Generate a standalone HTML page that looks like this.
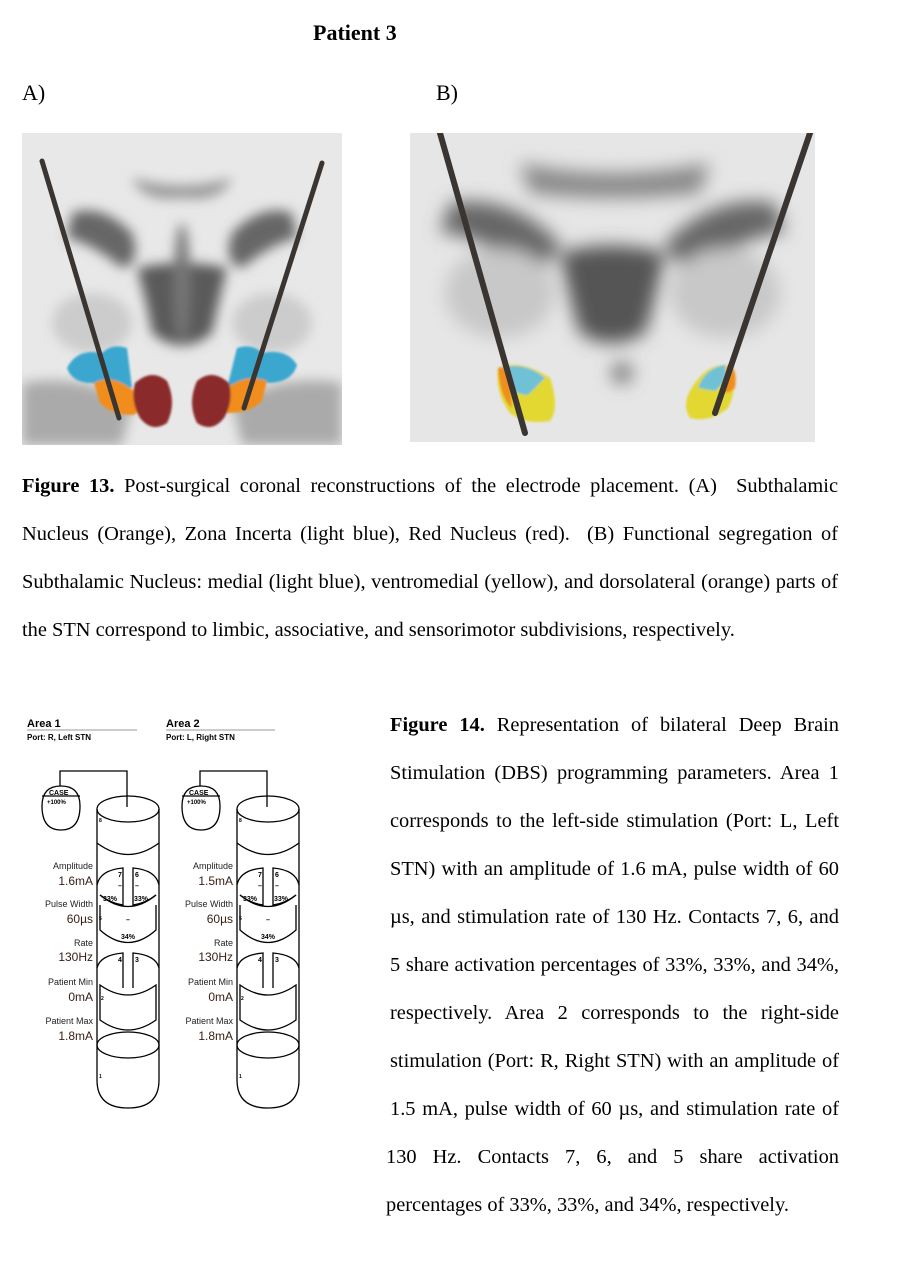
<!DOCTYPE html>
<html><head><meta charset="utf-8"><style>
body{margin:0;background:#fff;width:914px;height:1284px;position:relative;font-family:"Liberation Serif",serif;color:#000;overflow:hidden}
.a{position:absolute}
.cap{position:absolute;font-size:20.4px;line-height:48px;text-align:justify;text-align-last:justify}
.cap .l{display:block;height:48px;white-space:nowrap}
</style></head><body>
<div class="a" style="left:313px;top:20px;font-size:22px;font-weight:bold">Patient 3</div>
<div class="a" style="left:22px;top:80px;font-size:22px">A)</div>
<div class="a" style="left:436px;top:80px;font-size:22px">B)</div>

<svg class="a" style="left:22px;top:133px" width="320" height="312" viewBox="0 0 320 312">
<defs><filter id="b1"><feGaussianBlur stdDeviation="6"/></filter><filter id="b2"><feGaussianBlur stdDeviation="1"/></filter></defs>
<rect width="320" height="312" fill="#e8e8e8"/>
<g filter="url(#b1)" fill="#8a8a8a">
<path d="M110 45 Q160 60 210 45 Q200 70 160 65 Q120 70 110 45Z" fill="#999"/>
<path d="M50 80 Q80 70 110 100 Q120 130 100 135 Q70 110 45 105Z" fill="#666"/>
<path d="M270 80 Q240 70 210 100 Q200 130 220 135 Q250 110 275 105Z" fill="#666"/>
<path d="M115 135 Q160 125 205 135 Q195 175 190 200 Q160 225 130 200 Q125 170 115 135Z" fill="#5a5a5a"/>
<ellipse cx="160" cy="150" rx="8" ry="60" fill="#777"/>
<path d="M0 250 Q60 240 110 270 L100 312 L0 312Z" fill="#aaa"/>
<path d="M320 250 Q260 240 210 270 L220 312 L320 312Z" fill="#aaa"/>
<ellipse cx="70" cy="190" rx="40" ry="30" fill="#ccc"/><ellipse cx="250" cy="190" rx="40" ry="30" fill="#ccc"/>
</g>
<g filter="url(#b2)">
<path d="M45 235 Q55 215 80 220 Q90 210 105 215 L110 255 Q90 255 70 250 Q50 250 45 235Z" fill="#3aa7cf"/>
<path d="M275 232 Q265 215 240 220 Q230 210 215 215 L205 255 Q225 255 245 250 Q270 250 275 232Z" fill="#3aa7cf"/>
<path d="M72 250 Q90 240 112 258 Q122 275 112 282 Q90 282 78 270Z" fill="#f08d1e"/>
<path d="M245 248 Q225 240 205 255 Q195 272 205 280 Q228 280 240 268Z" fill="#f08d1e"/>
<path d="M113 250 Q130 235 145 248 Q155 270 145 290 Q130 300 118 285 Q108 268 113 250Z" fill="#8b2a2c"/>
<path d="M207 250 Q190 235 175 248 Q165 270 175 290 Q190 300 202 285 Q212 268 207 250Z" fill="#8b2a2c"/>
</g>
<line x1="20" y1="28" x2="97" y2="285" stroke="#3a3530" stroke-width="5" stroke-linecap="round"/>
<line x1="300" y1="30" x2="222" y2="275" stroke="#3a3530" stroke-width="5" stroke-linecap="round"/>
</svg>

<svg class="a" style="left:410px;top:133px" width="405" height="309" viewBox="0 0 405 309">
<defs><filter id="b3"><feGaussianBlur stdDeviation="9"/></filter><filter id="b4"><feGaussianBlur stdDeviation="1"/></filter></defs>
<rect width="405" height="309" fill="#e6e6e6"/>
<g filter="url(#b3)">
<path d="M110 30 Q200 50 300 30 L290 60 Q200 70 120 60Z" fill="#888"/>
<path d="M40 70 Q100 60 150 110 Q140 140 110 140 Q70 100 30 100Z" fill="#666"/>
<path d="M365 70 Q305 60 255 110 Q265 140 295 140 Q335 100 375 100Z" fill="#666"/>
<path d="M150 120 Q200 105 255 120 Q245 170 235 200 Q200 220 170 200 Q160 170 150 120Z" fill="#555"/>
<ellipse cx="90" cy="160" rx="55" ry="45" fill="#c8c8c8"/><ellipse cx="315" cy="160" rx="55" ry="45" fill="#c8c8c8"/>
<ellipse cx="212" cy="240" rx="10" ry="10" fill="#666"/>
</g>
<g filter="url(#b4)">
<path d="M88 235 Q110 225 140 245 Q150 275 140 288 Q115 292 100 280 Q85 260 88 235Z" fill="#e3d833"/>
<path d="M90 235 Q115 228 135 245 L118 262 Q98 262 90 235Z" fill="#6fc1d6"/>
<path d="M88 235 Q96 232 100 245 L102 275 Q90 265 88 235Z" fill="#f08d1e"/>
<path d="M322 233 Q300 228 285 250 Q270 270 280 285 Q300 290 318 275 Q328 255 322 233Z" fill="#e3d833"/>
<path d="M315 232 Q295 235 288 255 L305 258 Q318 248 315 232Z" fill="#6fc1d6"/>
<path d="M318 232 Q328 235 325 255 Q318 262 312 258Z" fill="#f08d1e"/>
</g>
<line x1="30" y1="0" x2="115" y2="300" stroke="#3a3530" stroke-width="6" stroke-linecap="round"/>
<line x1="400" y1="0" x2="305" y2="280" stroke="#3a3530" stroke-width="6" stroke-linecap="round"/>
</svg>

<div class="cap" style="left:22px;top:462px;width:816px">
<span class="l"><b>Figure 13.</b> Post-surgical coronal reconstructions of the electrode placement. (A) &nbsp;Subthalamic</span>
<span class="l">Nucleus (Orange), Zona Incerta (light blue), Red Nucleus (red). &nbsp;(B) Functional segregation of</span>
<span class="l">Subthalamic Nucleus: medial (light blue), ventromedial (yellow), and dorsolateral (orange) parts of</span>
<span class="l" style="text-align-last:left">the STN correspond to limbic, associative, and sensorimotor subdivisions, respectively.</span>
</div>

<div class="cap" style="left:390px;top:701px;width:449px">
<span class="l"><b>Figure 14.</b> Representation of bilateral Deep Brain</span>
<span class="l">Stimulation (DBS) programming parameters. Area 1</span>
<span class="l">corresponds to the left-side stimulation (Port: L, Left</span>
<span class="l">STN) with an amplitude of 1.6 mA, pulse width of 60</span>
<span class="l">µs, and stimulation rate of 130 Hz. Contacts 7, 6, and</span>
<span class="l">5 share activation percentages of 33%, 33%, and 34%,</span>
<span class="l">respectively. Area 2 corresponds to the right-side</span>
<span class="l">stimulation (Port: R, Right STN) with an amplitude of</span>
<span class="l">1.5 mA, pulse width of 60 µs, and stimulation rate of</span>
<span class="l" style="margin-left:-4px">130 Hz. Contacts 7, 6, and 5 share activation</span>
<span class="l" style="margin-left:-4px;text-align-last:left">percentages of 33%, 33%, and 34%, respectively.</span>
</div>

<svg class="a" style="left:0;top:700px" width="380" height="420" viewBox="0 700 380 420" font-family="Liberation Sans, sans-serif">
<text x="27" y="727" font-size="11" font-weight="bold">Area 1</text>
<line x1="27" y1="730" x2="137" y2="730" stroke="#999" stroke-width="1"/>
<text x="27" y="740" font-size="8" font-weight="bold">Port: R, Left STN</text>
<text x="166" y="727" font-size="11" font-weight="bold">Area 2</text>
<line x1="166" y1="730" x2="275" y2="730" stroke="#999" stroke-width="1"/>
<text x="166" y="740" font-size="8" font-weight="bold">Port: L, Right STN</text>

<g fill="none" stroke="#000" stroke-width="1.3">
<path d="M60 786 V771 H127 V807"/>
<path d="M42 806 Q42 786 61 786 Q80 786 80 806 Q80 830 61 830 Q42 830 42 806Z" fill="#fff"/>
<line x1="42" y1="796" x2="80" y2="796"/>
<path d="M97 809 V1080 Q97 1108 128 1108 Q159 1108 159 1080 V809"/>
<ellipse cx="128" cy="809" rx="31" ry="13"/>
<path d="M97 843 Q128 866 159 843"/>
<path d="M97 885 Q100 870 123 868 V905 Q110 903 100 895"/>
<path d="M159 885 Q156 870 133 868 V905 Q146 903 156 895"/>
<path d="M100 895 Q128 918 156 895"/>
<path d="M100 905 V930 Q128 955 156 930 V905"/>
<path d="M97 968 Q100 955 123 953 V988"/>
<path d="M159 968 Q156 955 133 953 V988"/>
<path d="M100 985 Q128 1005 156 985 V1020 Q128 1040 100 1020Z"/>
<ellipse cx="128" cy="1045" rx="31" ry="13"/>
</g>
<g font-size="7" font-weight="bold">
<text x="99" y="822" font-size="5">8</text><text x="118" y="877">7</text><text x="135" y="877">6</text>
<text x="118" y="888">–</text><text x="135" y="888">–</text>
<text x="103" y="901">33%</text><text x="134" y="901">33%</text>
<text x="99" y="920" font-size="5">5</text><text x="126" y="922">–</text><text x="121" y="939">34%</text>
<text x="118" y="962">4</text><text x="135" y="962">3</text><text x="101" y="1000" font-size="5">2</text><text x="99" y="1078" font-size="5">1</text>
<text x="49" y="795" font-size="7">CASE</text><text x="47" y="804" font-size="6">+100%</text>
</g>
<g font-size="9" text-anchor="end" fill="#222">
<text x="93" y="869">Amplitude</text><text x="93" y="885" font-size="12" fill="#3a2015">1.6mA</text>
<text x="93" y="907">Pulse Width</text><text x="93" y="923" font-size="12" fill="#3a2015">60µs</text>
<text x="93" y="946">Rate</text><text x="93" y="961" font-size="12" fill="#3a2015">130Hz</text>
<text x="93" y="985">Patient Min</text><text x="93" y="1001" font-size="12" fill="#3a2015">0mA</text>
<text x="93" y="1024">Patient Max</text><text x="93" y="1040" font-size="12" fill="#3a2015">1.8mA</text>
</g>
<g transform="translate(140,0)">
<g fill="none" stroke="#000" stroke-width="1.3">
<path d="M60 786 V771 H127 V807"/>
<path d="M42 806 Q42 786 61 786 Q80 786 80 806 Q80 830 61 830 Q42 830 42 806Z" fill="#fff"/>
<line x1="42" y1="796" x2="80" y2="796"/>
<path d="M97 809 V1080 Q97 1108 128 1108 Q159 1108 159 1080 V809"/>
<ellipse cx="128" cy="809" rx="31" ry="13"/>
<path d="M97 843 Q128 866 159 843"/>
<path d="M97 885 Q100 870 123 868 V905 Q110 903 100 895"/>
<path d="M159 885 Q156 870 133 868 V905 Q146 903 156 895"/>
<path d="M100 895 Q128 918 156 895"/>
<path d="M100 905 V930 Q128 955 156 930 V905"/>
<path d="M97 968 Q100 955 123 953 V988"/>
<path d="M159 968 Q156 955 133 953 V988"/>
<path d="M100 985 Q128 1005 156 985 V1020 Q128 1040 100 1020Z"/>
<ellipse cx="128" cy="1045" rx="31" ry="13"/>
</g>
<g font-size="7" font-weight="bold">
<text x="99" y="822" font-size="5">8</text><text x="118" y="877">7</text><text x="135" y="877">6</text>
<text x="118" y="888">–</text><text x="135" y="888">–</text>
<text x="103" y="901">33%</text><text x="134" y="901">33%</text>
<text x="99" y="920" font-size="5">5</text><text x="126" y="922">–</text><text x="121" y="939">34%</text>
<text x="118" y="962">4</text><text x="135" y="962">3</text><text x="101" y="1000" font-size="5">2</text><text x="99" y="1078" font-size="5">1</text>
<text x="49" y="795" font-size="7">CASE</text><text x="47" y="804" font-size="6">+100%</text>
</g>
<g font-size="9" text-anchor="end" fill="#222">
<text x="93" y="869">Amplitude</text><text x="93" y="885" font-size="12" fill="#3a2015">1.5mA</text>
<text x="93" y="907">Pulse Width</text><text x="93" y="923" font-size="12" fill="#3a2015">60µs</text>
<text x="93" y="946">Rate</text><text x="93" y="961" font-size="12" fill="#3a2015">130Hz</text>
<text x="93" y="985">Patient Min</text><text x="93" y="1001" font-size="12" fill="#3a2015">0mA</text>
<text x="93" y="1024">Patient Max</text><text x="93" y="1040" font-size="12" fill="#3a2015">1.8mA</text>
</g>
</g>
</svg>
</body></html>
